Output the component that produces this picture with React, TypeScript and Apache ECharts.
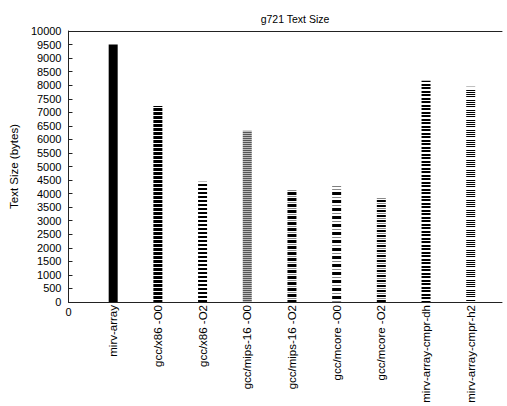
import React, { useEffect, useRef } from "react";
import * as echarts from "echarts";

const title = "g721 Text Size";
const yName = "Text Size (bytes)";
const categories = [
  "mirv-array",
  "gcc/x86 -O0",
  "gcc/x86 -O2",
  "gcc/mips-16 -O0",
  "gcc/mips-16 -O2",
  "gcc/mcore -O0",
  "gcc/mcore -O2",
  "mirv-array-cmpr-dh",
  "mirv-array-cmpr-h2",
];
const values = [9500, 7230, 4440, 6320, 4160, 4260, 3850, 8160, 7940];
const yMin = 0;
const yMax = 10000;
const yStep = 500;
const xMin = 0;
const xMax = 9.7;

// row colour sequences (one pixel per entry) used as fill patterns
const patterns: string[][] = [
  ["#000"],
  ["#000", "#000", "#000", "#fff"],
  ["#000", "#000", "#fff", "#fff"],
  ["#555", "#bbb"],
  ["#000", "#000", "#000", "#fff", "#888", "#fff"],
  ["#000", "#000", "#000", "#fff", "#fff", "#888", "#fff", "#fff"],
  ["#000", "#000", "#fff", "#888", "#fff"],
  ["#000", "#000", "#fff", "#000", "#000", "#fff", "#fff"],
  ["#000", "#fff", "#000", "#fff", "#000", "#fff", "#000", "#fff", "#fff", "#fff"],
];

function makePattern(rows: string[]) {
  const c = document.createElement("canvas");
  c.width = 4;
  c.height = rows.length;
  const ctx = c.getContext("2d")!;
  rows.forEach((col, i) => {
    ctx.fillStyle = col;
    ctx.fillRect(0, i, 4, 1);
  });
  return { image: c, repeat: "repeat" } as any;
}

const FONT = "Liberation Sans";

export default function App() {
  const ref = useRef<HTMLDivElement>(null);
  useEffect(() => {
    const chart = echarts.init(ref.current!, null, { renderer: "svg" });
    const data = values.map((v, i) => ({
      value: [i + 1, v],
      itemStyle: { color: makePattern(patterns[i]) },
    }));
    chart.setOption({
      animation: false,
      title: {
        text: title,
        left: 290,
        top: 8,
        textAlign: "center",
        textStyle: { fontFamily: FONT, fontSize: 10.5, fontWeight: "normal", color: "#000" },
      },
      grid: { left: 62, top: 31, right: 5, bottom: 104 },
      xAxis: [
        {
          type: "value",
          min: xMin,
          max: xMax,
          interval: 1,
          position: "bottom",
          axisLine: { show: true, lineStyle: { color: "#222", width: 1 } },
          axisTick: { show: false },
          splitLine: { show: false },
          axisLabel: {
            rotate: 90,
            margin: 3,
            fontFamily: FONT,
            fontSize: 11.5,
            color: "#000",
            showMaxLabel: false,
            formatter: (v: number) => (v >= 1 && v <= categories.length ? categories[v - 1] : ""),
          },
        },
        {
          type: "value",
          min: xMin,
          max: xMax,
          interval: 1,
          position: "bottom",
          axisLine: { show: false },
          axisTick: { show: false },
          splitLine: { show: false },
          axisLabel: {
            margin: 4,
            fontFamily: FONT,
            fontSize: 11,
            color: "#000",
            showMaxLabel: false,
            formatter: (v: number) => (v === 0 ? "0" : ""),
          },
        },
        {
          type: "value",
          min: xMin,
          max: xMax,
          position: "top",
          axisLine: { show: true, lineStyle: { color: "#222", width: 1 } },
          axisTick: { show: false },
          axisLabel: { show: false },
          splitLine: { show: false },
        },
      ],
      yAxis: {
        type: "value",
        min: yMin,
        max: yMax,
        interval: yStep,
        name: yName,
        nameLocation: "middle",
        nameGap: 44,
        nameTextStyle: { fontFamily: FONT, fontSize: 11.5, color: "#000" },
        axisLine: { show: true, lineStyle: { color: "#222", width: 1 } },
        axisTick: { show: true, inside: true, length: 4, lineStyle: { color: "#222" } },
        splitLine: { show: false },
        axisLabel: {
          margin: 7,
          fontFamily: FONT,
          fontSize: 11,
          color: "#000",
          formatter: (v: number) => String(v),
        },
      },
      series: [
        {
          type: "bar",
          xAxisIndex: 0,
          barWidth: 9,
          data,
        },
      ],
    });
    return () => chart.dispose();
  }, []);
  return (
    <div
      ref={ref}
      style={{ position: "absolute", left: 0, top: 0, width: 507, height: 406 }}
    />
  );
}
